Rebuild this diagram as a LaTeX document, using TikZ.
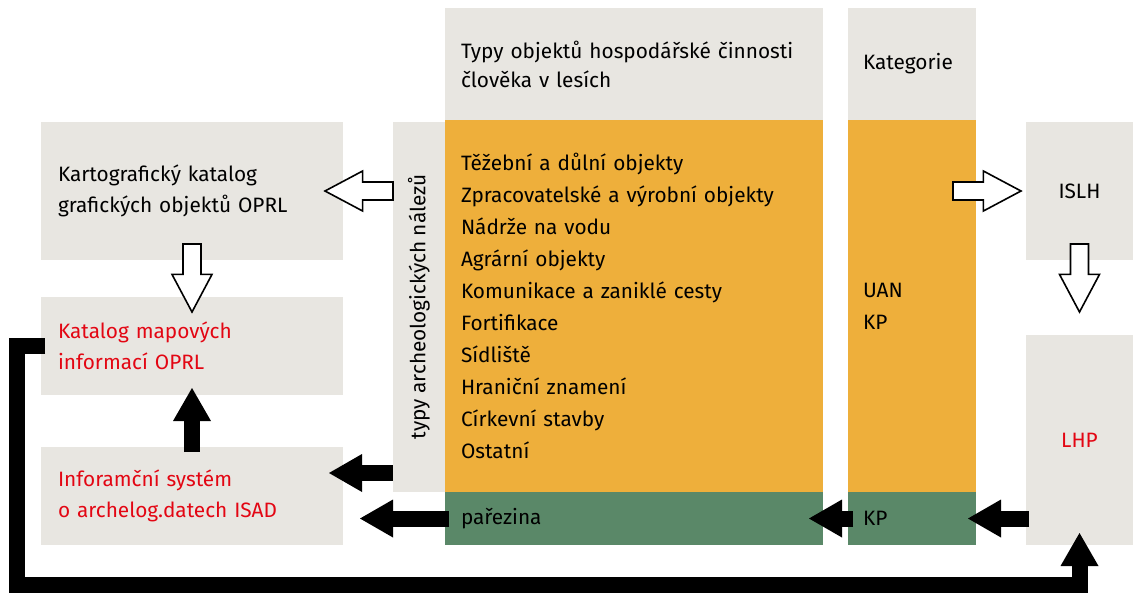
\documentclass[tikz,border=0pt]{standalone}
\usepackage{fontspec}
\setmainfont{Fira Sans}
\usetikzlibrary{arrows.meta,shapes.arrows,calc}
\definecolor{colorbox}{HTML}{E8E6E1}
\definecolor{colorobj}{HTML}{EEAF3B}
\definecolor{colorpar}{HTML}{5A8868}
\definecolor{colorsys}{HTML}{E30613}
\tikzset{
  boxgr/.style={fill=colorbox, inner sep=0pt, outer sep=0pt, align=left},
  boxobj/.style={fill=colorobj, inner sep=0pt, outer sep=0pt, align=left},
  boxpar/.style={fill=colorpar, inner sep=0pt, outer sep=0pt, align=left},
  edgeblk/.style={black, line width=16pt, -{Triangle[width=38pt,length=33pt,line width=0pt]}},
  arrowhol/.style={single arrow, draw=black, fill=white, line width=1.6pt,
    inner sep=8.2pt, outer sep=0pt, minimum height=68pt, minimum width=38pt,
    single arrow head extend=11pt, single arrow tip angle=56, anchor=tip}
}

\begin{document}
\begin{tikzpicture}[x=1pt, y=-1pt, font=\fontsize{20.8}{31}\selectfont]
\useasboundingbox (0,0) rectangle (1133,592);
% left column
\node[boxgr, minimum width=302pt, minimum height=138pt, text width=268pt] (kart) at (192,191) {Kartografický katalog\\grafických objektů OPRL};
\node[boxgr, minimum width=302pt, minimum height=98pt, text width=268pt, text=colorsys] (mapy) at (192,346) {Katalog mapových\\informací OPRL};
\node[boxgr, minimum width=302pt, minimum height=98pt, text width=268pt, text=colorsys] (isad) at (192,496) {Inforamční systém\\o archelog.datech ISAD};
% middle columns
\node[boxgr, minimum width=370pt, minimum height=52pt, rotate=90] (typy) at (419,307) {typy archeologických nálezů};
\node[boxgr, minimum width=378pt, minimum height=112pt, text width=346pt, font=\fontsize{20.8}{29}\selectfont] (hdobj) at (634,64) {Typy objektů hospodářské činnosti\\člověka v lesích};
\node[boxobj, minimum width=378pt, minimum height=372pt, text width=346pt, font=\fontsize{20.8}{32}\selectfont] (obj) at (634,306) {Těžební a důlní objekty\\Zpracovatelské a výrobní objekty\\Nádrže na vodu\\Agrární objekty\\Komunikace a zaniklé cesty\\Fortifikace\\Sídliště\\Hraniční znamení\\Církevní stavby\\Ostatní};
\node[boxpar, minimum width=378pt, minimum height=53pt, text width=346pt] (par) at (634,518.5) {pařezina};
\node[boxgr, minimum width=128pt, minimum height=112pt, text width=98pt] (hdkat) at (912,64) {Kategorie};
\node[boxobj, minimum width=128pt, minimum height=372pt, text width=98pt, font=\fontsize{20.8}{32}\selectfont] (kateg) at (912,306) {UAN\\KP};
\node[boxpar, minimum width=128pt, minimum height=53pt, text width=98pt] (kp) at (912,518.5) {KP};
% right column
\node[boxgr, minimum width=107pt, minimum height=138pt] (islh) at (1079.5,191) {ISLH};
\node[boxgr, minimum width=107pt, minimum height=210pt, text=colorsys] (lhp) at (1079.5,440) {LHP};
% hollow arrows
\node[arrowhol, shape border rotate=180] (hkart) at ([xshift=-18pt]kart.east) {};
\node[arrowhol, shape border rotate=270] (hmapy) at ([yshift=-52pt]kart.south) {};
\node[arrowhol] (hislh) at ([xshift=-5pt]islh.west) {};
\node[arrowhol, shape border rotate=270] (hlhp) at ([yshift=-52pt]islh.south) {};
% black arrows
\coordinate (lk) at (lhp.west |- kp.west);
\coordinate (base) at (0,584.5);
\draw[edgeblk] ([yshift=19pt]typy.north west) -- ++(-64,0);
\draw[edgeblk] ([xshift=4pt]par.west) -- ++(-89,0);
\draw[edgeblk] ([xshift=5pt]kp.west) -- ++(-44,0);
\draw[edgeblk] ([xshift=3pt]lk) -- ++(-61,0);
\draw[edgeblk] ([yshift=-5pt]isad.north) -- ++(0,-64);
\draw[edgeblk] ([xshift=4pt]mapy.west) -- ++(-28.5,0) |- (lhp.south |- base) -- ([yshift=12pt]lhp.south);
\end{tikzpicture}
\end{document}
